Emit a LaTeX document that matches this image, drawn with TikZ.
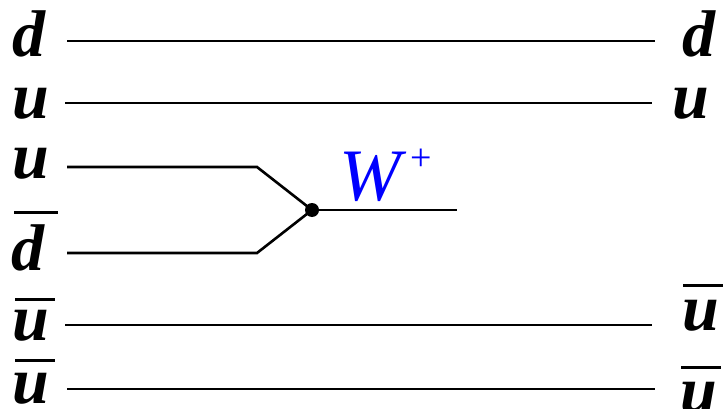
\documentclass[tikz,border=0pt]{standalone}
\usepackage{fontspec}
\setmainfont{Liberation Serif}
\definecolor{wblue}{RGB}{0,0,255}
\begin{document}
\begin{tikzpicture}[x=1pt,y=-1pt,
  lab/.style={font=\fontsize{66}{66}\selectfont\bfseries\itshape, anchor=base west, inner sep=0pt},
  wlab/.style={font=\fontsize{74}{74}\selectfont\itshape, anchor=base west, inner sep=0pt, text=wblue},
  quark/.style={line width=2.6pt},
  bar/.style={line width=3pt}]
\useasboundingbox (0,0) rectangle (725,409);
% left labels
\node[lab] (l1) at (12,57) {d};
\node[lab] (l2) at (12,118) {u};
\node[lab] (l3) at (12,178) {u};
\node[lab] (l4) at (11,270) {d};
\node[lab] (l5) at (12,340) {u};
\node[lab] (l6) at (12,403) {u};
% right labels
\node[lab] (r1) at (682,57) {d};
\node[lab] (r2) at (672,118) {u};
\node[lab] (r5) at (682,330) {u};
\node[lab] (r6) at (680,412) {u};
% overbars
\draw[bar] (14,212) -- (58,212);
\draw[bar] (15,299) -- (55,299);
\draw[bar] (15,360) -- (55,360);
\draw[bar] (683,285) -- (723,285);
\draw[bar] (681,367) -- (721,367);
% lines
\coordinate (a1) at (67,41);  \coordinate (b1) at (655,41);
\coordinate (a2) at (65,103); \coordinate (b2) at (652,103);
\coordinate (a3) at (67,167); \coordinate (k3) at (257,167);
\coordinate (a4) at (67,253); \coordinate (k4) at (257,253);
\coordinate (v) at (312,210); \coordinate (w) at (457,210);
\coordinate (a5) at (65,325); \coordinate (b5) at (652,325);
\coordinate (a6) at (67,389); \coordinate (b6) at (655,389);
\draw[quark] (a1) -- (b1);
\draw[quark] (a2) -- (b2);
\draw[quark] (a3) -- (k3) -- (v);
\draw[quark] (a4) -- (k4) -- (v);
\draw[quark] (v) -- (w);
\draw[quark] (a5) -- (b5);
\draw[quark] (a6) -- (b6);
\fill (v) circle (7);
\node[wlab] (W) at (339,200) {W\hspace{10pt}\raisebox{30pt}{\fontsize{38}{38}\selectfont\upshape +}};
\end{tikzpicture}
\end{document}
